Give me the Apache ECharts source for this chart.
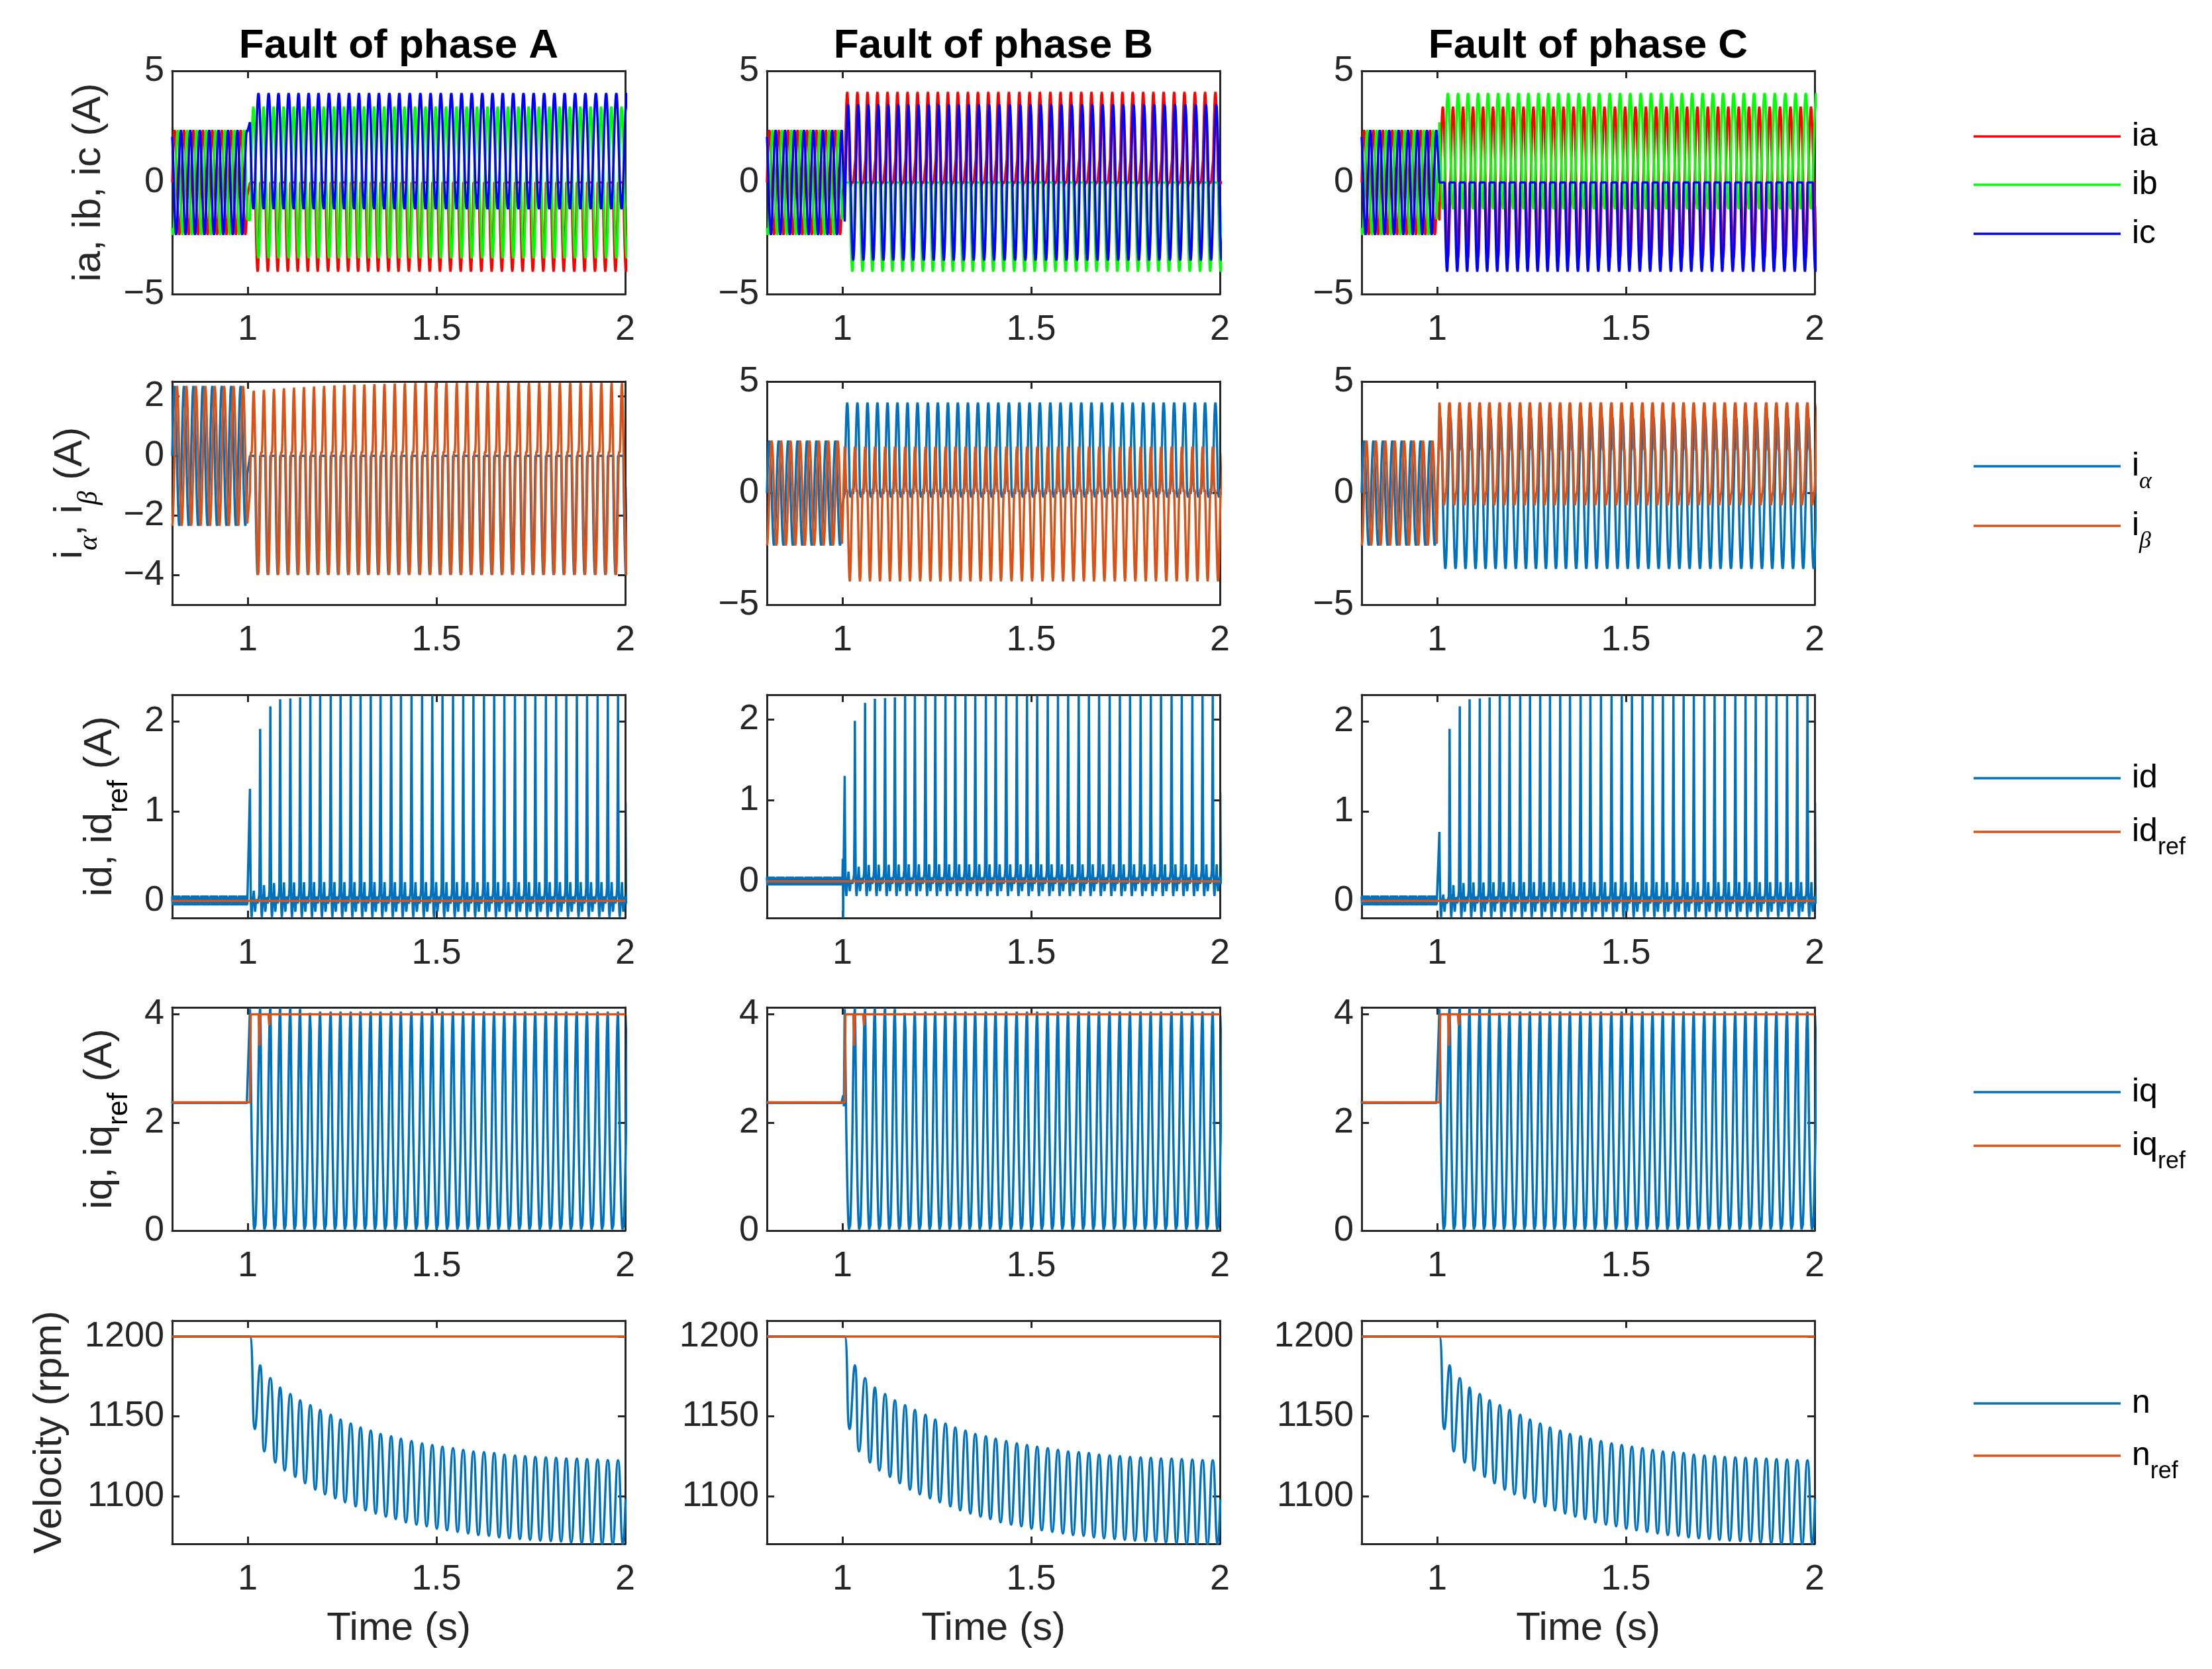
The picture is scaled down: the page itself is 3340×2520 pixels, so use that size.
<!DOCTYPE html>
<html><head><meta charset="utf-8">
<script src="https://cdn.jsdelivr.net/npm/echarts@6/dist/echarts.min.js"></script>
<style>html,body{margin:0;padding:0;background:#fff}#c{width:3340px;height:2520px}</style>
</head><body><div id="c"></div>
<script>
// ---------------- DATA ----------------
// electrical cycle boundaries (s): 40 Hz before the fault, slowing after it
const preEdges  = [0.800, 0.825, 0.850, 0.875, 0.900, 0.925, 0.950, 0.975, 1.000];
const postEdges = [1.006, 1.033, 1.060, 1.086, 1.113, 1.139, 1.166, 1.192, 1.220, 1.246, 1.273, 1.299, 1.326,
  1.352, 1.380, 1.406, 1.434, 1.462, 1.489, 1.516, 1.544, 1.571, 1.598, 1.626, 1.653, 1.680, 1.708, 1.735,
  1.762, 1.790, 1.817, 1.844, 1.872, 1.899, 1.927, 1.954, 1.981, 2.009];

// one-cycle waveform shapes (24 samples per cycle), values in A
const iaPre   = [0, 0.61, 1.18, 1.66, 2.04, 2.27, 2.35, 2.27, 2.04, 1.66, 1.18, 0.61, 0, -0.61, -1.18, -1.66, -2.04, -2.27, -2.35, -2.27, -2.04, -1.66, -1.18, -0.61];
const ibPre   = [-2.04, -2.27, -2.35, -2.27, -2.04, -1.66, -1.18, -0.61, 0, 0.61, 1.18, 1.66, 2.04, 2.27, 2.35, 2.27, 2.04, 1.66, 1.18, 0.61, 0, -0.61, -1.18, -1.66];
const icPre   = [2.04, 1.66, 1.18, 0.61, 0, -0.61, -1.18, -1.66, -2.04, -2.27, -2.35, -2.27, -2.04, -1.66, -1.18, -0.61, 0, 0.61, 1.18, 1.66, 2.04, 2.27, 2.35, 2.27];
const ibetaPre = [-2.35, -2.27, -2.04, -1.66, -1.18, -0.61, 0, 0.61, 1.18, 1.66, 2.04, 2.27, 2.35, 2.27, 2.04, 1.66, 1.18, 0.61, 0, -0.61, -1.18, -1.66, -2.04, -2.27];

const halfNegPost = [0, 0, 0, 0, 0, 0, 0, 0, 0, 0, 0, 0, 0, -1.04, -2.0, -2.83, -3.46, -3.86, -4.0, -3.86, -3.46, -2.83, -2.0, -1.04];
const offsetPosPost = [2.7, 2.07, 1.4, 0.73, 0.1, -0.44, -0.85, -1.11, -1.2, -1.11, -0.85, -0.44, 0.1, 0.73, 1.4, 2.07, 2.7, 3.24, 3.65, 3.91, 4.0, 3.91, 3.65, 3.24];
const sine34Post = [-1.7, -0.88, 0, 0.88, 1.7, 2.4, 2.94, 3.28, 3.4, 3.28, 2.94, 2.4, 1.7, 0.88, 0, -0.88, -1.7, -2.4, -2.94, -3.28, -3.4, -3.28, -2.94, -2.4];
const sine35Post = [-1.75, -0.91, 0, 0.91, 1.75, 2.47, 3.03, 3.38, 3.5, 3.38, 3.03, 2.47, 1.75, 0.91, 0, -0.91, -1.75, -2.47, -3.03, -3.38, -3.5, -3.38, -3.03, -2.47];
const halfPosPost = [0, 1.05, 2.03, 2.87, 3.51, 3.92, 4.06, 3.92, 3.51, 2.87, 2.03, 1.05, 0, -0.1, -0.2, -0.15, -0.05, 0, 0.05, 0, -0.05, -0.1, -0.05, 0];

const ibetaPostA = [-1.2, -0.3, 0.1, 0.15, 0.1, 0.4, 1.1, 1.8, 2.3, 2.45, 2.1, 1.4, 0.6, -0.2, -1.0, -1.8, -2.6, -3.3, -3.8, -4.0, -3.9, -3.5, -2.9, -2.1];
const ibetaPeaksA = [2.19, 2.22, 2.25, 2.27, 2.29, 2.31, 2.33, 2.35, 2.37, 2.38, 2.39, 2.40, 2.41, 2.42, 2.43, 2.44];
const ibetaPostB = [2.08, 1.8, 1.2, 0.5, 0.05, 0.15, 0.05, -0.6, -1.5, -2.4, -3.2, -3.75, -3.96, -3.75, -3.2, -2.4, -1.5, -0.6, 0.1, 0.2, 0.1, 0.6, 1.2, 1.8];
const ibetaPostC = [4.06, 3.9, 3.4, 2.6, 2.0, 1.9, 2.0, 1.6, 0.8, 0.0, -0.4, -0.55, -0.5, -0.3, -0.1, 0.0, 0.1, 0.4, 1.0, 1.8, 2.6, 3.3, 3.8, 4.0];
const ialphaPostC = [2.94, 3.28, 3.4, 3.28, 2.94, 2.4, 1.7, 0.88, 0, -0.88, -1.7, -2.4, -2.94, -3.28, -3.4, -3.28, -2.94, -2.4, -1.7, -0.88, 0, 0.88, 1.7, 2.4];

const idPre  = [0.05, -0.04, 0.06, -0.05, 0.04, -0.05, 0.06, -0.04, 0.05, -0.05, 0.04, -0.04, 0.06, -0.05, 0.05, -0.04, 0.04, -0.05, 0.06, -0.04, 0.05, -0.05, 0.04, -0.04];
const idPost = [2.29, 0.9, 0.05, -0.12, -0.18, -0.1, 0.0, 0.05, 0.1, 0.21, 0.08, -0.05, -0.12, -0.08, 0.0, 0.03, 0.05, 0.02, -0.03, 0.0, 0.04, 0.08, 0.15, 1.1];
const idPeaksA = [1.25, 1.92, 2.17, 2.25, 2.26, 2.27];
const idPeaksB = [1.30, 1.98, 2.20, 2.25, 2.26, 2.27];
const idPeaksC = [0.77, 1.92, 2.17, 2.25, 2.26, 2.27];
const idTransB = [[1.000, 0.03], [1.001, 0.28], [1.002, -0.45], [1.003, 0.05]];
const idRefPoints = [[0.8, 0], [2.0, 0]];

const iqPre  = [2.39, 2.35, 2.38, 2.36, 2.39, 2.35, 2.38, 2.36, 2.39, 2.35, 2.38, 2.36, 2.39, 2.35, 2.38, 2.36, 2.39, 2.35, 2.38, 2.36, 2.39, 2.35, 2.38, 2.36];
const iqPost = [4.05, 3.7, 3.0, 2.3, 1.75, 1.3, 0.9, 0.55, 0.28, 0.1, 0.02, 0.0, 0.02, 0.1, 0.28, 0.55, 0.9, 1.3, 1.75, 2.3, 2.85, 3.35, 3.75, 3.98];
const iqPeaks = [4.10, 4.12, 4.12, 4.12, 4.12, 4.10];
const iqTransB = [[1.000, 2.37], [1.002, 2.5], [1.004, 2.3]];
const iqRefPoints = [[0.8, 2.37], [1.006, 2.37], [1.008, 4.0], [1.029, 4.0], [1.031, 3.42], [1.033, 4.0],
  [1.055, 4.0], [1.057, 3.8], [1.059, 4.0], [2.0, 4.0]];

// speed (rpm): turning points of the ripple
const nPoints = [[0.8, 1200], [1.000, 1200], [1.006, 1200],
  [1.019, 1142], [1.033, 1182], [1.044, 1128], [1.060, 1174], [1.073, 1121], [1.086, 1168],
  [1.098, 1116], [1.113, 1164], [1.126, 1112], [1.139, 1160], [1.152, 1108], [1.166, 1157],
  [1.179, 1104], [1.192, 1154], [1.205, 1101], [1.220, 1151], [1.232, 1098.5], [1.246, 1148],
  [1.258, 1096], [1.273, 1145.5], [1.286, 1093.5], [1.299, 1143], [1.312, 1091], [1.326, 1141],
  [1.339, 1089], [1.352, 1139], [1.366, 1087], [1.380, 1137.5], [1.392, 1085.5], [1.406, 1136],
  [1.419, 1083.5], [1.434, 1134.5], [1.447, 1082], [1.462, 1133], [1.474, 1081], [1.489, 1132],
  [1.501, 1079.5], [1.516, 1131], [1.528, 1078.5], [1.544, 1130], [1.556, 1077.5], [1.571, 1129],
  [1.584, 1076.5], [1.598, 1128], [1.611, 1075.5], [1.626, 1127.5], [1.639, 1075], [1.653, 1127],
  [1.666, 1074], [1.680, 1126], [1.693, 1073.5], [1.708, 1125.5], [1.721, 1073], [1.735, 1125],
  [1.748, 1072.5], [1.762, 1124.5], [1.775, 1072], [1.790, 1124.2], [1.803, 1071.7], [1.817, 1124],
  [1.830, 1071.4], [1.844, 1123.6], [1.857, 1070.8], [1.872, 1123.5], [1.885, 1070.4], [1.899, 1123.2],
  [1.912, 1070.1], [1.927, 1122.9], [1.939, 1069.8], [1.954, 1122.6], [1.967, 1069.6], [1.981, 1122.4],
  [1.994, 1069.4], [2.001, 1098]];
const nRefPoints = [[0.8, 1200], [2.0, 1200]];

// axis ticks / ranges
const xTicks = [1, 1.5, 2];
const titles = ['Fault of phase A', 'Fault of phase B', 'Fault of phase C'];
const yNames = ['ia, ib, ic (A)', 'i{g|\u03b1}, i{g|\u03b2} (A)', 'id, id{s|ref} (A)', 'iq, iq{s|ref} (A)', 'Velocity (rpm)'];
const yRanges = [
  [{min: -5, max: 5, ticks: [-5, 0, 5]}, {min: -5, max: 5, ticks: [-5, 0, 5]}, {min: -5, max: 5, ticks: [-5, 0, 5]}],
  [{min: -5, max: 2.5, ticks: [-4, -2, 0, 2]}, {min: -5, max: 5, ticks: [-5, 0, 5]}, {min: -5, max: 5, ticks: [-5, 0, 5]}],
  [{min: -0.19, max: 2.3, ticks: [0, 1, 2]}, {min: -0.45, max: 2.3, ticks: [0, 1, 2]}, {min: -0.19, max: 2.3, ticks: [0, 1, 2]}],
  [{min: 0, max: 4.13, ticks: [0, 2, 4]}, {min: 0, max: 4.13, ticks: [0, 2, 4]}, {min: 0, max: 4.13, ticks: [0, 2, 4]}],
  [{min: 1070, max: 1210, ticks: [1100, 1150, 1200]}, {min: 1070, max: 1210, ticks: [1100, 1150, 1200]}, {min: 1070, max: 1210, ticks: [1100, 1150, 1200]}]
];

// ---------------- LAYOUT / STYLE ----------------
const COLS = [260, 1158, 2056], COL_W = 684;
const ROWS = [107, 576, 1049, 1521, 1994], ROW_H = 337;
const FONT = "'Liberation Sans', Arial, Helvetica, sans-serif";
const AX = '#262626';
const C_RED = '#FF0000', C_GREEN = '#00FF00', C_BLUE = '#0000FF', C_MB = '#0072BD', C_MO = '#D95319';
const LW = 3.5;
const yNameGap = [96, 104, 59, 59, 155];
const yNameLH = [60, 100, 100, 100, 60];

// place one-cycle shapes on the cycle boundaries
function buildWave(preTpl, postTpl, transition, firstPeaks) {
  const pts = [];
  for (let k = 0; k < preEdges.length - 1; k++) {
    const t0 = preEdges[k], t1 = preEdges[k + 1], n = preTpl.length;
    for (let j = 0; j < n; j++) pts.push([t0 + (t1 - t0) * j / n, preTpl[j]]);
  }
  (transition || []).forEach(p => pts.push(p));
  const tplMax = Math.max.apply(null, postTpl);
  for (let k = 0; k < postEdges.length - 1; k++) {
    const t0 = postEdges[k], t1 = postEdges[k + 1], n = postTpl.length;
    const f = firstPeaks && k < firstPeaks.length ? firstPeaks[k] / tplMax : 1;
    for (let j = 0; j < n; j++) {
      const v = postTpl[j];
      pts.push([t0 + (t1 - t0) * j / n, v > 0 ? v * f : v]);
    }
  }
  return pts;
}

const fmt = v => (v < 0 ? '\u2212' + (-v) : String(v));
const richSub = (size) => ({
  s: {fontSize: size, lineHeight: size, verticalAlign: 'bottom', fontFamily: FONT, color: '#000'},
  g: {fontSize: size, lineHeight: size, verticalAlign: 'bottom', fontFamily: "'Liberation Serif', 'DejaVu Serif', serif", fontStyle: 'italic', color: '#000'}
});

const option = {animation: false, backgroundColor: '#fff', grid: [], xAxis: [], yAxis: [], series: [], legend: []};

for (let r = 0; r < 5; r++) {
  for (let c = 0; c < 3; c++) {
    const g = r * 3 + c;
    const yr = yRanges[r][c];
    option.grid.push({left: COLS[c], top: ROWS[r], width: COL_W, height: ROW_H});
    const axLine = {show: true, onZero: false, lineStyle: {color: AX, width: 3}};
    const tickX = {show: true, inside: true, length: 11, customValues: xTicks, lineStyle: {color: AX, width: 3}};
    const tickY = {show: true, inside: true, length: 11, customValues: yr.ticks, lineStyle: {color: AX, width: 3}};
    option.xAxis.push({
      type: 'value', gridIndex: g, position: 'bottom', min: 0.8, max: 2,
      axisLine: axLine, axisTick: tickX, splitLine: {show: false},
      axisLabel: {show: true, customValues: xTicks, formatter: fmt, fontSize: 54, color: AX, fontFamily: FONT, margin: 27},
      name: r === 4 ? 'Time (s)' : '', nameLocation: 'middle', nameGap: 98,
      nameTextStyle: {fontSize: 60, lineHeight: 60, color: AX, fontFamily: FONT}
    });
    option.xAxis.push({
      type: 'value', gridIndex: g, position: 'top', min: 0.8, max: 2,
      axisLine: axLine, axisTick: tickX, splitLine: {show: false}, axisLabel: {show: false},
      name: r === 0 ? titles[c] : '', nameLocation: 'middle', nameGap: 6,
      nameTextStyle: {fontSize: 62, lineHeight: 62, fontWeight: 'bold', color: '#000', fontFamily: FONT}
    });
    option.yAxis.push({
      type: 'value', gridIndex: g, position: 'left', min: yr.min, max: yr.max,
      axisLine: axLine, axisTick: tickY, splitLine: {show: false},
      axisLabel: {show: true, customValues: yr.ticks, formatter: fmt, fontSize: 54, color: AX, fontFamily: FONT, margin: 12},
      name: c === 0 ? yNames[r] : '', nameLocation: 'middle', nameGap: yNameGap[r],
      nameTextStyle: {fontSize: 60, lineHeight: yNameLH[r], color: AX, fontFamily: FONT, rich: richSub(42)}
    });
    option.yAxis.push({
      type: 'value', gridIndex: g, position: 'right', min: yr.min, max: yr.max,
      axisLine: axLine, axisTick: tickY, splitLine: {show: false}, axisLabel: {show: false}
    });
  }
}

function addLine(g, name, data, color, extra) {
  option.series.push(Object.assign({
    type: 'line', name: name, xAxisIndex: g * 2, yAxisIndex: g * 2, data: data,
    showSymbol: false, symbol: 'none', clip: true, silent: true, animation: false,
    lineStyle: {color: color, width: LW}, itemStyle: {color: color}
  }, extra || {}));
}

// row 1: phase currents
addLine(0, 'ia', buildWave(iaPre, halfNegPost), C_RED);
addLine(0, 'ib', buildWave(ibPre, sine34Post), C_GREEN);
addLine(0, 'ic', buildWave(icPre, offsetPosPost), C_BLUE);
addLine(1, 'ia', buildWave(iaPre, halfPosPost), C_RED);
addLine(1, 'ib', buildWave(ibPre, halfNegPost), C_GREEN);
addLine(1, 'ic', buildWave(icPre, sine35Post), C_BLUE);
addLine(2, 'ia', buildWave(iaPre, sine34Post), C_RED);
addLine(2, 'ib', buildWave(ibPre, offsetPosPost), C_GREEN);
addLine(2, 'ic', buildWave(icPre, halfNegPost), C_BLUE);
// row 2: alpha-beta
addLine(3, 'i\u03b1', buildWave(iaPre, halfNegPost), C_MB);
addLine(3, 'i\u03b2', buildWave(ibetaPre, ibetaPostA, null, ibetaPeaksA), C_MO);
addLine(4, 'i\u03b1', buildWave(iaPre, halfPosPost), C_MB);
addLine(4, 'i\u03b2', buildWave(ibetaPre, ibetaPostB), C_MO);
addLine(5, 'i\u03b1', buildWave(iaPre, ialphaPostC), C_MB);
addLine(5, 'i\u03b2', buildWave(ibetaPre, ibetaPostC), C_MO);
// row 3: id
addLine(6, 'id', buildWave(idPre, idPost, null, idPeaksA), C_MB);
addLine(6, 'idref', idRefPoints, C_MO);
addLine(7, 'id', buildWave(idPre, idPost, idTransB, idPeaksB), C_MB);
addLine(7, 'idref', idRefPoints, C_MO);
addLine(8, 'id', buildWave(idPre, idPost, null, idPeaksC), C_MB);
addLine(8, 'idref', idRefPoints, C_MO);
// row 4: iq
addLine(9, 'iq', buildWave(iqPre, iqPost, null, iqPeaks), C_MB);
addLine(9, 'iqref', iqRefPoints, C_MO);
addLine(10, 'iq', buildWave(iqPre, iqPost, iqTransB, iqPeaks), C_MB);
addLine(10, 'iqref', iqRefPoints, C_MO);
addLine(11, 'iq', buildWave(iqPre, iqPost, null, iqPeaks), C_MB);
addLine(11, 'iqref', iqRefPoints, C_MO);
// row 5: speed
for (let c = 0; c < 3; c++) {
  addLine(12 + c, 'n', nPoints, C_MB, {smooth: 0.5});
  addLine(12 + c, 'nref', nRefPoints, C_MO);
}

// legends (one per entry)
const legendLabels = {'ia': 'ia', 'ib': 'ib', 'ic': 'ic', 'i\u03b1': 'i{g|\u03b1}', 'i\u03b2': 'i{g|\u03b2}',
  'id': 'id', 'idref': 'id{s|ref}', 'iq': 'iq', 'iqref': 'iq{s|ref}', 'n': 'n', 'nref': 'n{s|ref}'};
const legendPos = [['ia', 206], ['ib', 279], ['ic', 353], ['i\u03b1', 704], ['i\u03b2', 794],
  ['id', 1175], ['idref', 1256], ['iq', 1649], ['iqref', 1730], ['n', 2119], ['nref', 2198]];
legendPos.forEach(([name, cy]) => {
  const rich = /\{/.test(legendLabels[name]);
  const lh = rich ? 84 : 50;
  option.legend.push({
    data: [name], left: 2980, top: cy - lh / 2, orient: 'vertical', padding: 0,
    selectedMode: false, icon: 'rect', itemWidth: 222, itemHeight: 3.5,
    formatter: n => legendLabels[n],
    textStyle: {fontSize: 50, lineHeight: lh, color: '#000', fontFamily: FONT, padding: [0, 0, 0, 12], rich: richSub(36)}
  });
});

const chart = echarts.init(document.getElementById('c'), null, {renderer: 'canvas'});
chart.setOption(option);
</script>
</body></html>
